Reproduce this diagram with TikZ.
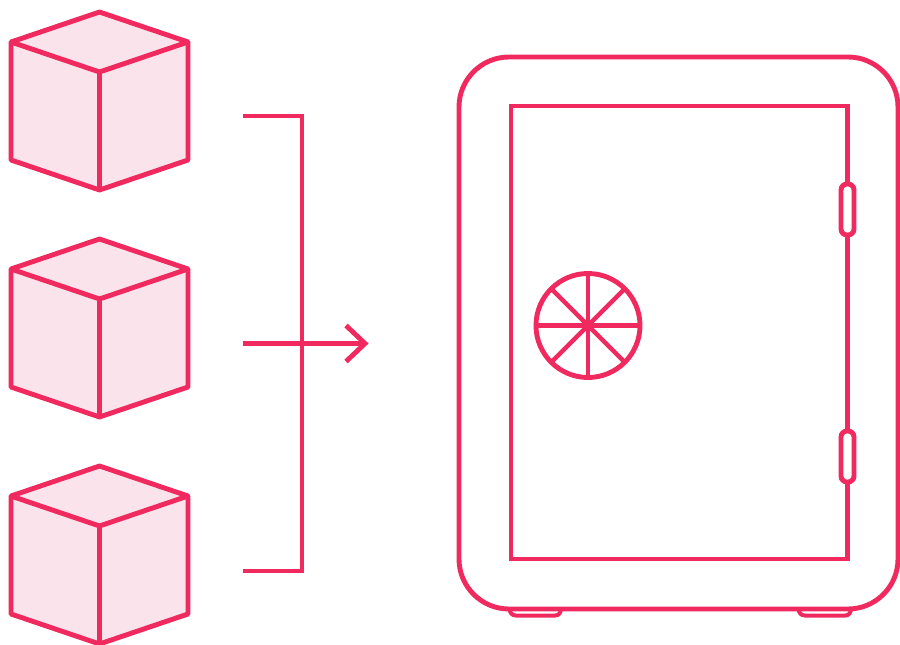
\documentclass[tikz,border=0pt]{standalone}
\usepackage{tikz}
\definecolor{safepink}{HTML}{F0295F}
\definecolor{cubefill}{HTML}{FAE3EB}
\tikzset{
  x=1pt,y=-1pt,
  ink/.style={draw=safepink,line width=4.9pt,line join=miter,miter limit=3},
  thin ink/.style={draw=safepink,line width=4pt},
  cube/.pic={
    \path[fill=cubefill] (99.5,12)--(188,42)--(188,160)--(99.5,190)--(11,160)--(11,42)--cycle;
    \draw[ink,line join=round] (99.5,12)--(188,42)--(188,160)--(99.5,190)--(11,160)--(11,42)--cycle;
    \draw[ink,line join=round] (11,42)--(99.5,72)--(188,42);
    \draw[ink] (99.5,72)--(99.5,190);
  }
}
\begin{document}
\begin{tikzpicture}
\useasboundingbox (0,0) rectangle (900,645);
\clip (0,0) rectangle (900,645);
\pic at (0,0) {cube};
\pic at (0,227) {cube};
\pic at (0,454) {cube};
% bracket and arrow
\draw[ink] (243,116)--(302,116)--(302,571)--(243,571);
\draw[ink] (243,343.5)--(365,343.5);
\draw[ink] (346,325.5)--(365,343.5)--(346,361.5);
% feet
\draw[thin ink] (509.5,609) .. controls (510,613) and (512,615.5) .. (516,615.5) -- (555,615.5) .. controls (559,615.5) and (560.5,613) .. (561,609);
\draw[thin ink] (798.5,609) .. controls (799,613) and (801,615.5) .. (805,615.5) -- (845,615.5) .. controls (849,615.5) and (850.5,613) .. (851,609);
% safe body
\draw[ink,rounded corners=50pt] (459,57) rectangle (898,609);
\draw[ink] (511,106) rectangle (847.5,559);
% hinges
\draw[ink,fill=white,rounded corners=6pt] (841,184) rectangle (854,235);
\draw[ink,fill=white,rounded corners=6pt] (841,431) rectangle (854,482);
% dial
\draw[ink] (588,325.5) circle[radius=52];
\foreach \a in {0,45,90,135}{
  \draw[ink,line width=4.4pt] (588,325.5)+(\a:52) -- +(\a+180:52);
}
\end{tikzpicture}
\end{document}
